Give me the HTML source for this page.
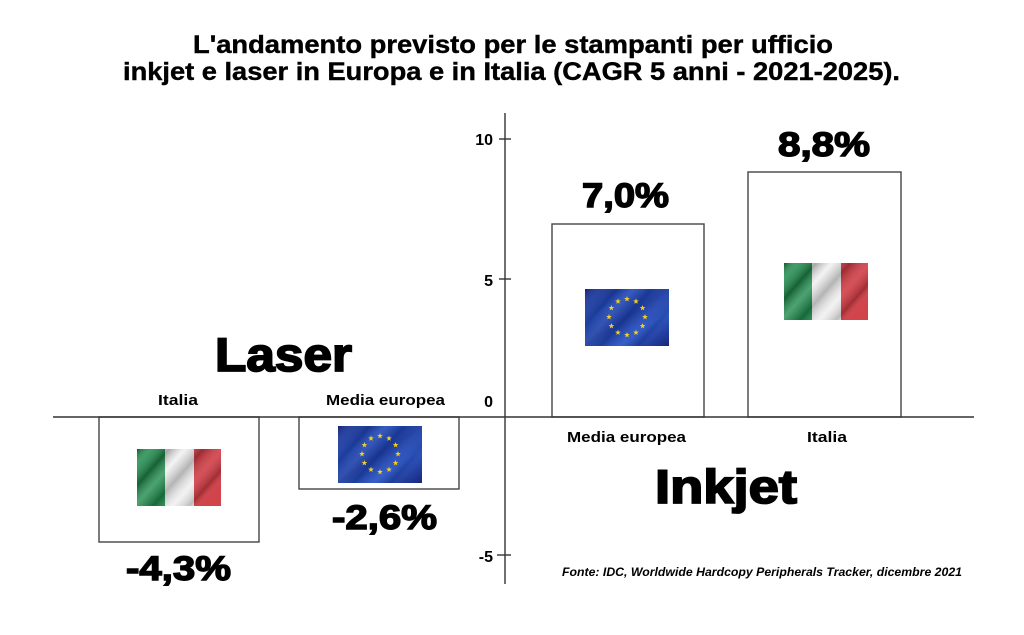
<!DOCTYPE html>
<html>
<head>
<meta charset="utf-8">
<style>
html,body{margin:0;padding:0;background:#fff;}
svg{display:block;}
text{font-family:"Liberation Sans",Arial,sans-serif;fill:#000;}
</style>
</head>
<body>
<svg width="1024" height="635" viewBox="0 0 1024 635" xmlns="http://www.w3.org/2000/svg">
<defs>
  <linearGradient id="wave" x1="0" y1="0" x2="1" y2="0.6">
    <stop offset="0" stop-color="#000" stop-opacity="0.4"/>
    <stop offset="0.12" stop-color="#fff" stop-opacity="0.15"/>
    <stop offset="0.28" stop-color="#000" stop-opacity="0.3"/>
    <stop offset="0.42" stop-color="#fff" stop-opacity="0.2"/>
    <stop offset="0.58" stop-color="#000" stop-opacity="0.25"/>
    <stop offset="0.75" stop-color="#fff" stop-opacity="0.12"/>
    <stop offset="0.9" stop-color="#000" stop-opacity="0.22"/>
    <stop offset="1" stop-color="#fff" stop-opacity="0.05"/>
  </linearGradient>
  <linearGradient id="eublue" x1="0" y1="0" x2="1" y2="1">
    <stop offset="0" stop-color="#14298a"/>
    <stop offset="0.3" stop-color="#2149b8"/>
    <stop offset="0.5" stop-color="#1a3aa2"/>
    <stop offset="0.7" stop-color="#2a55c6"/>
    <stop offset="1" stop-color="#112277"/>
  </linearGradient>
  <path id="star" d="M0,-3 L0.705,-0.971 L2.853,-0.927 L1.141,0.371 L1.763,2.427 L0,1.2 L-1.763,2.427 L-1.141,0.371 L-2.853,-0.927 L-0.705,-0.971 Z" fill="#f5d020"/>
  <g id="itflag">
    <rect x="0" y="0" width="28" height="57" fill="#1f8b4c"/>
    <rect x="28" y="0" width="29" height="57" fill="#f0f0f0"/>
    <rect x="57" y="0" width="27" height="57" fill="#d03a42"/>
    <rect x="0" y="0" width="84" height="57" fill="url(#wave)"/>
  </g>
  <g id="euflag">
    <rect x="0" y="0" width="84" height="57" fill="url(#eublue)"/>
    <rect x="0" y="0" width="84" height="57" fill="url(#wave)" opacity="0.5"/>
    <use href="#star" x="42" y="10"/>
    <use href="#star" x="51" y="12.4"/>
    <use href="#star" x="57.6" y="19"/>
    <use href="#star" x="60" y="28"/>
    <use href="#star" x="57.6" y="37"/>
    <use href="#star" x="51" y="43.6"/>
    <use href="#star" x="42" y="46"/>
    <use href="#star" x="33" y="43.6"/>
    <use href="#star" x="26.4" y="37"/>
    <use href="#star" x="24" y="28"/>
    <use href="#star" x="26.4" y="19"/>
    <use href="#star" x="33" y="12.4"/>
  </g>
</defs>

<!-- Title -->
<g font-size="25" font-weight="bold" stroke="#000" stroke-width="0.4">
<text x="193" y="53" textLength="640" lengthAdjust="spacingAndGlyphs">L'andamento previsto per le stampanti per ufficio</text>
<text x="123" y="80" textLength="777" lengthAdjust="spacingAndGlyphs">inkjet e laser in Europa e in Italia (CAGR 5 anni - 2021-2025).</text>
</g>

<!-- Bars -->
<g fill="#fff" stroke="#444" stroke-width="1.4">
  <rect x="99" y="417" width="160" height="125"/>
  <rect x="299" y="417" width="160" height="72"/>
  <rect x="552" y="224" width="152" height="193"/>
  <rect x="748" y="172" width="153" height="245"/>
</g>

<!-- Axes -->
<g stroke="#333" stroke-width="1.4">
  <line x1="53" y1="417" x2="974" y2="417"/>
  <line x1="505" y1="113" x2="505" y2="584"/>
  <line x1="499" y1="139" x2="511" y2="139"/>
  <line x1="499" y1="279" x2="511" y2="279"/>
  <line x1="497" y1="555" x2="511" y2="555"/>
</g>

<!-- Tick labels -->
<g font-size="16" font-weight="bold" text-anchor="end">
  <text x="493" y="145">10</text>
  <text x="493" y="286">5</text>
  <text x="493" y="407">0</text>
  <text x="493" y="562">-5</text>
</g>

<!-- Flags -->
<use href="#itflag" x="137" y="449"/>
<use href="#euflag" x="338" y="426"/>
<use href="#euflag" x="585" y="289"/>
<use href="#itflag" x="784" y="263"/>

<!-- Category labels -->
<g font-size="15" font-weight="bold">
  <text x="158" y="405" textLength="40" lengthAdjust="spacingAndGlyphs">Italia</text>
  <text x="326" y="405" textLength="119" lengthAdjust="spacingAndGlyphs">Media europea</text>
  <text x="567" y="442" textLength="119" lengthAdjust="spacingAndGlyphs">Media europea</text>
  <text x="807" y="442" textLength="40" lengthAdjust="spacingAndGlyphs">Italia</text>
</g>

<!-- Value labels -->
<g font-size="34" font-weight="bold" stroke="#000" stroke-width="1.4">
  <text x="126" y="580" textLength="105" lengthAdjust="spacingAndGlyphs">-4,3%</text>
  <text x="332" y="529" textLength="105" lengthAdjust="spacingAndGlyphs">-2,6%</text>
  <text x="582" y="207" textLength="87" lengthAdjust="spacingAndGlyphs">7,0%</text>
  <text x="778" y="156" textLength="92" lengthAdjust="spacingAndGlyphs">8,8%</text>
</g>

<!-- Group labels -->
<g font-size="47" font-weight="bold" stroke="#000" stroke-width="1.8">
  <text x="215" y="371" textLength="137" lengthAdjust="spacingAndGlyphs">Laser</text>
  <text x="655" y="503" textLength="142" lengthAdjust="spacingAndGlyphs">Inkjet</text>
</g>

<!-- Source -->
<text x="562" y="576" font-size="12" font-weight="bold" font-style="italic" textLength="400" lengthAdjust="spacingAndGlyphs">Fonte: IDC, Worldwide Hardcopy Peripherals Tracker, dicembre 2021</text>
</svg>
</body>
</html>
